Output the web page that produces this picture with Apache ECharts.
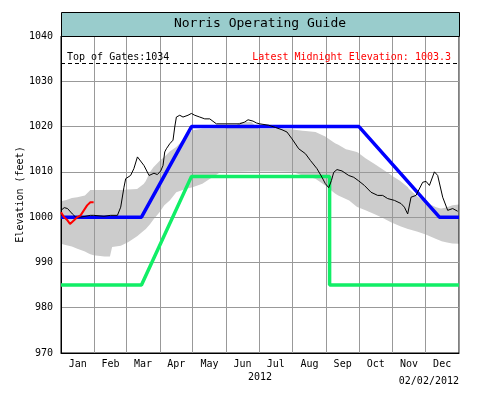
<!DOCTYPE html>
<html>
<head>
<meta charset="utf-8">
<script src="https://cdn.jsdelivr.net/npm/echarts@6/dist/echarts.min.js"></script>
<style>
html,body{margin:0;padding:0;background:#fff;}
#chart{width:479px;height:395px;}
</style>
</head>
<body>
<div id="chart"></div>
<script>
// ---- data (x = day of year 2012, 0 = Jan 1) ----
var monthNames = ['Jan','Feb','Mar','Apr','May','Jun','Jul','Aug','Sep','Oct','Nov','Dec'];
var monthStarts = [0,31,60,91,121,152,182,213,244,274,305,335,366];
var yTicks = [970,980,990,1000,1010,1020,1030,1040];

// historic range band
var bandDays  = [0,5,10,15,22,25,27,30,40,45,47,55,62,70,76,78,82,85,91,95,100,106,112,114,121,130,137,142,147,150,160,165,175,182,200,212,215,222,225,234,235,243,245,252,255,262,265,272,273,280,288,296,303,304,312,319,320,328,334,336,345,349,350,355,360,366];
var bandUpper = [1003.5,1003.8,1004.2,1004.4,1004.8,1005.5,1006,1006,1006,1006,1006,1006,1006.1,1006.2,1007.3,1008,1010,1011,1012.5,1013.3,1014.5,1015.5,1017,1017.5,1019.2,1019.5,1019.5,1019.6,1019.6,1019.6,1020,1021,1021,1019.5,1019.5,1019.4,1019.3,1019.1,1019,1018.8,1018.7,1017.8,1017.5,1016.3,1016,1015,1014.8,1014.4,1014.3,1013,1011.8,1010.5,1009.4,1009.2,1008,1006.6,1006.2,1004.5,1003.5,1003.2,1002.2,1001.9,1001.9,1002.2,1002.6,1002.8];
var bandLower = [994.1,993.8,993.5,993,992.4,992,991.8,991.6,991.3,991.3,993.4,993.7,994.5,995.8,997,997.4,998.5,999.5,1001.2,1002.6,1003.7,1005.5,1006,1006.2,1006.6,1007.4,1008.5,1009.2,1010,1010,1010,1010,1010.1,1010.1,1010.1,1010,1009.8,1009.2,1009.1,1008.5,1008.3,1007,1006.6,1005.2,1004.8,1004,1003.7,1002.3,1002.2,1001.5,1000.7,999.8,998.9,998.8,998,997.4,997.3,996.8,996.3,996.1,995.2,994.8,994.7,994.4,994.2,994.1];

// guide curves
var guideDays  = [0,74,120,274,348,366];
var guideTop   = [1000,1000,1020,1020,1000,1000];
var minDays    = [0,74,120,247,247,366];
var minElev    = [985,985,1009,1009,985,985];

// previous-year observed elevation
var obsDays = [0,3,6,10.5,13.5,18,27,30,39.5,45.7,51.9,53.3,54.9,57.9,59.5,61,64,67,70.3,71.7,76.3,81,85.5,88.6,91.7,93.8,95.4,96.9,100,103,104.6,106.1,109.2,112.2,113.8,116.8,119.9,123,127.6,132.2,136.8,142.9,152.1,164.3,168.9,172,176.6,179.7,182.7,191,197.2,203.2,207.8,212.4,218.6,224.8,229.4,235.4,240,243.1,246.2,248.7,250.8,253.8,258.4,264.6,269.2,273.8,279,285.1,291.2,295.8,300.4,306.6,312.7,315.8,318.8,321.9,326.5,332.6,335.7,338.8,343.4,346.4,351,355.6,360.2,364.8];
var obsElev = [1001.5,1002.1,1001.9,1000.7,1000,1000,1000.4,1000.4,1000.2,1000.4,1000.4,1000,1002.2,1006.6,1008.5,1008.7,1009.2,1010.7,1013.3,1013.1,1011.4,1009.2,1009.7,1009.4,1010.2,1011.4,1014.4,1015.1,1016.2,1017,1019.9,1022.1,1022.5,1022.1,1021.7,1022.5,1022.9,1022.5,1022.1,1021.7,1021.7,1020.6,1020.6,1020.6,1021,1021.5,1021.2,1020.8,1020.6,1020.3,1019.8,1019.3,1018.8,1017.3,1015.1,1014,1012.5,1010.7,1008.8,1007.4,1006.5,1008.1,1009.9,1010.5,1010.2,1009.2,1008.8,1008,1007,1005.5,1004.8,1004.8,1004.1,1003.7,1003,1002.2,1000.7,1004.4,1004.8,1007.7,1007.9,1007,1010,1009.2,1004.4,1001.5,1001.9,1001.3];

// current year
var curDays = [0,2.8,5.9,8.3,12,15,18,21,24,27,30];
var curElev = [1001.1,1000,999.3,998.5,999.3,1000,1000.4,1001.5,1002.6,1003.3,1003.3];

var topOfGates = 1034;
var latestElev = '1003.3';
var titleText = 'Norris Operating Guide';
var dateText = '02/02/2012';
var yearText = '2012';

// ---- build ----
function pairs(xs, ys){ return xs.map(function(x,i){ return [x, ys[i]]; }); }
var monthMids = monthNames.map(function(m,i){ return (monthStarts[i]+monthStarts[i+1])/2; });
var bandData = bandDays.map(function(d,i){ return [d, bandLower[i], bandUpper[i]]; });

function renderBand(params, api){
  if (params.dataIndex !== 0) return null;
  var pts = [];
  for (var i=0;i<bandData.length;i++) pts.push(api.coord([bandData[i][0], bandData[i][2]]));
  for (var j=bandData.length-1;j>=0;j--) pts.push(api.coord([bandData[j][0], bandData[j][1]]));
  return {type:'polygon', shape:{points:pts}, style:{fill:'#cccccc', stroke:null}};
}

var FONT = '"DejaVu Sans Mono", monospace';
var chart = echarts.init(document.getElementById('chart'), null, {renderer:'canvas'});
chart.setOption({
  animation:false,
  backgroundColor:'#ffffff',
  grid:{left:61,right:20,top:36,bottom:42,show:true,borderColor:'#000',borderWidth:1,backgroundColor:'transparent'},
  xAxis:{
    type:'value', min:0, max:366,
    name:yearText, nameLocation:'middle', nameGap:19, nameMoveOverlap:false,
    nameTextStyle:{fontFamily:FONT,fontSize:10,color:'#000'},
    axisLine:{show:true,lineStyle:{color:'#000',width:1}},
    axisTick:{show:false, customValues:monthStarts},
    splitLine:{show:true,lineStyle:{color:'#999',width:1}},
    axisLabel:{customValues:monthMids, margin:6, fontFamily:FONT, fontSize:10, color:'#000',
      formatter:function(v){ for(var i=0;i<monthMids.length;i++){ if(Math.abs(monthMids[i]-v)<0.01) return monthNames[i]; } return ''; }}
  },
  yAxis:{
    type:'value', min:yTicks[0], max:yTicks[yTicks.length-1], interval:10,
    name:'Elevation (feet)', nameLocation:'middle', nameGap:36, nameMoveOverlap:false,
    nameTextStyle:{fontFamily:FONT,fontSize:10,color:'#000'},
    axisLine:{show:true,lineStyle:{color:'#000',width:1}},
    axisTick:{show:false},
    splitLine:{show:true,lineStyle:{color:'#999',width:1}},
    axisLabel:{margin:8,fontFamily:FONT,fontSize:10,color:'#000',formatter:function(v){return String(v);}}
  },
  series:[
    {type:'custom', name:'band', data:bandData, renderItem:renderBand, z:-1, silent:true,
     encode:{x:0,y:[1,2]}, clip:true},
    {type:'line', name:'min', data:pairs(minDays,minElev), symbol:'none',
     lineStyle:{color:'#11ee66',width:3.5}, z:3},
    {type:'line', name:'guide', data:pairs(guideDays,guideTop), symbol:'none',
     lineStyle:{color:'#0000ff',width:3.5}, z:4,
     markLine:{silent:true, symbol:'none', label:{show:false},
       lineStyle:{color:'#000',type:[4,3],width:1},
       data:[{yAxis:topOfGates}]}},
    {type:'line', name:'obs', data:pairs(obsDays,obsElev), symbol:'none',
     lineStyle:{color:'#000',width:1}, z:5},
    {type:'line', name:'cur', data:pairs(curDays,curElev), symbol:'none',
     lineStyle:{color:'#ff0000',width:2}, z:6}
  ],
  graphic:[
    {type:'rect', left:61, top:12, shape:{width:398,height:24}, style:{fill:'#99cccc',stroke:'#000',lineWidth:1}, z:10},
    {type:'text', x:260, y:24, style:{text:titleText, font:'13px '+FONT, fill:'#000', textAlign:'center', textVerticalAlign:'middle'}, z:11},
    {type:'text', x:67, y:57, style:{text:'Top of Gates:'+topOfGates, font:'10px '+FONT, fill:'#000', textAlign:'left', textVerticalAlign:'middle'}, z:11},
    {type:'text', x:451, y:57, style:{text:'Latest Midnight Elevation: '+latestElev, font:'10px '+FONT, fill:'#ff0000', textAlign:'right', textVerticalAlign:'middle'}, z:11},
    {type:'text', x:459, y:381, style:{text:dateText, font:'10px '+FONT, fill:'#000', textAlign:'right', textVerticalAlign:'middle'}, z:11}
  ]
});
</script>
</body>
</html>
